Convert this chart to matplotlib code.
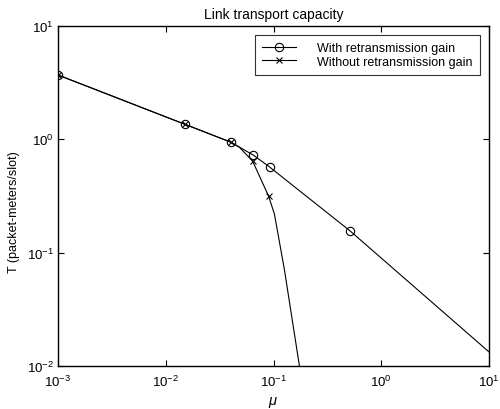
import numpy as np
import matplotlib
matplotlib.use("Agg")
import matplotlib.pyplot as plt

plt.rcParams['font.family'] = ['Liberation Sans', 'DejaVu Sans']
plt.rcParams['mathtext.fontset'] = 'custom'
plt.rcParams['mathtext.rm'] = 'Liberation Sans'
plt.rcParams['mathtext.it'] = 'Liberation Sans:italic'
plt.rcParams['mathtext.default'] = 'regular'
plt.rcParams['axes.unicode_minus'] = False

# with retransmission gain (last point has no marker)
mu_with = [0.001, 0.015, 0.040, 0.065, 0.092, 0.516, 10.0]
T_with = [3.7, 1.36, 0.946, 0.726, 0.57, 0.155, 0.0133]

# without retransmission gain (markers on first five points)
mu_without = [0.001, 0.015, 0.040, 0.048, 0.064, 0.090, 0.102, 0.126, 0.174, 0.194]
T_without = [3.7, 1.36, 0.946, 0.855, 0.643, 0.316, 0.219, 0.0716, 0.01, 0.005]

fig = plt.figure(figsize=(5.0, 4.1), dpi=100)
ax = fig.add_axes([0.116, 0.105, 0.862, 0.829])

ax.plot(mu_with, T_with, '-', color='black', lw=0.8, marker='o', ms=6,
        mfc='none', mew=0.8, markevery=[0, 1, 2, 3, 4, 5],
        label='With retransmission gain')
ax.plot(mu_without, T_without, '-', color='black', lw=0.8, marker='x', ms=4,
        mew=0.8, markevery=[0, 1, 2, 4, 5],
        label='Without retransmission gain')

ax.set_xscale('log')
ax.set_yscale('log')
ax.set_xlim(1e-3, 1e1)
ax.set_ylim(1e-2, 1e1)
ax.minorticks_off()
ax.tick_params(which='both', direction='in', top=True, right=True, length=4,
               width=0.8, labelsize=9.5)
ax.tick_params(axis='x', pad=6)
ax.tick_params(axis='y', pad=3)
for s in ax.spines.values():
    s.set_linewidth(1.0)

ax.set_title('Link transport capacity', fontsize=10, pad=6)
ax.set_xlabel(r'$\mathit{\mu}$', fontsize=10.5, labelpad=3)
ax.set_ylabel('T (packet-meters/slot)', fontsize=9)
ax.yaxis.set_label_coords(-0.088, 0.456)

leg = ax.legend(loc='upper right', fontsize=9, frameon=True, fancybox=False,
                edgecolor='black', borderpad=0.6, handlelength=2.7,
                handletextpad=1.7, labelspacing=0.1, borderaxespad=0.7)
leg.get_frame().set_linewidth(0.8)

fig.savefig('out.png', dpi=100)
